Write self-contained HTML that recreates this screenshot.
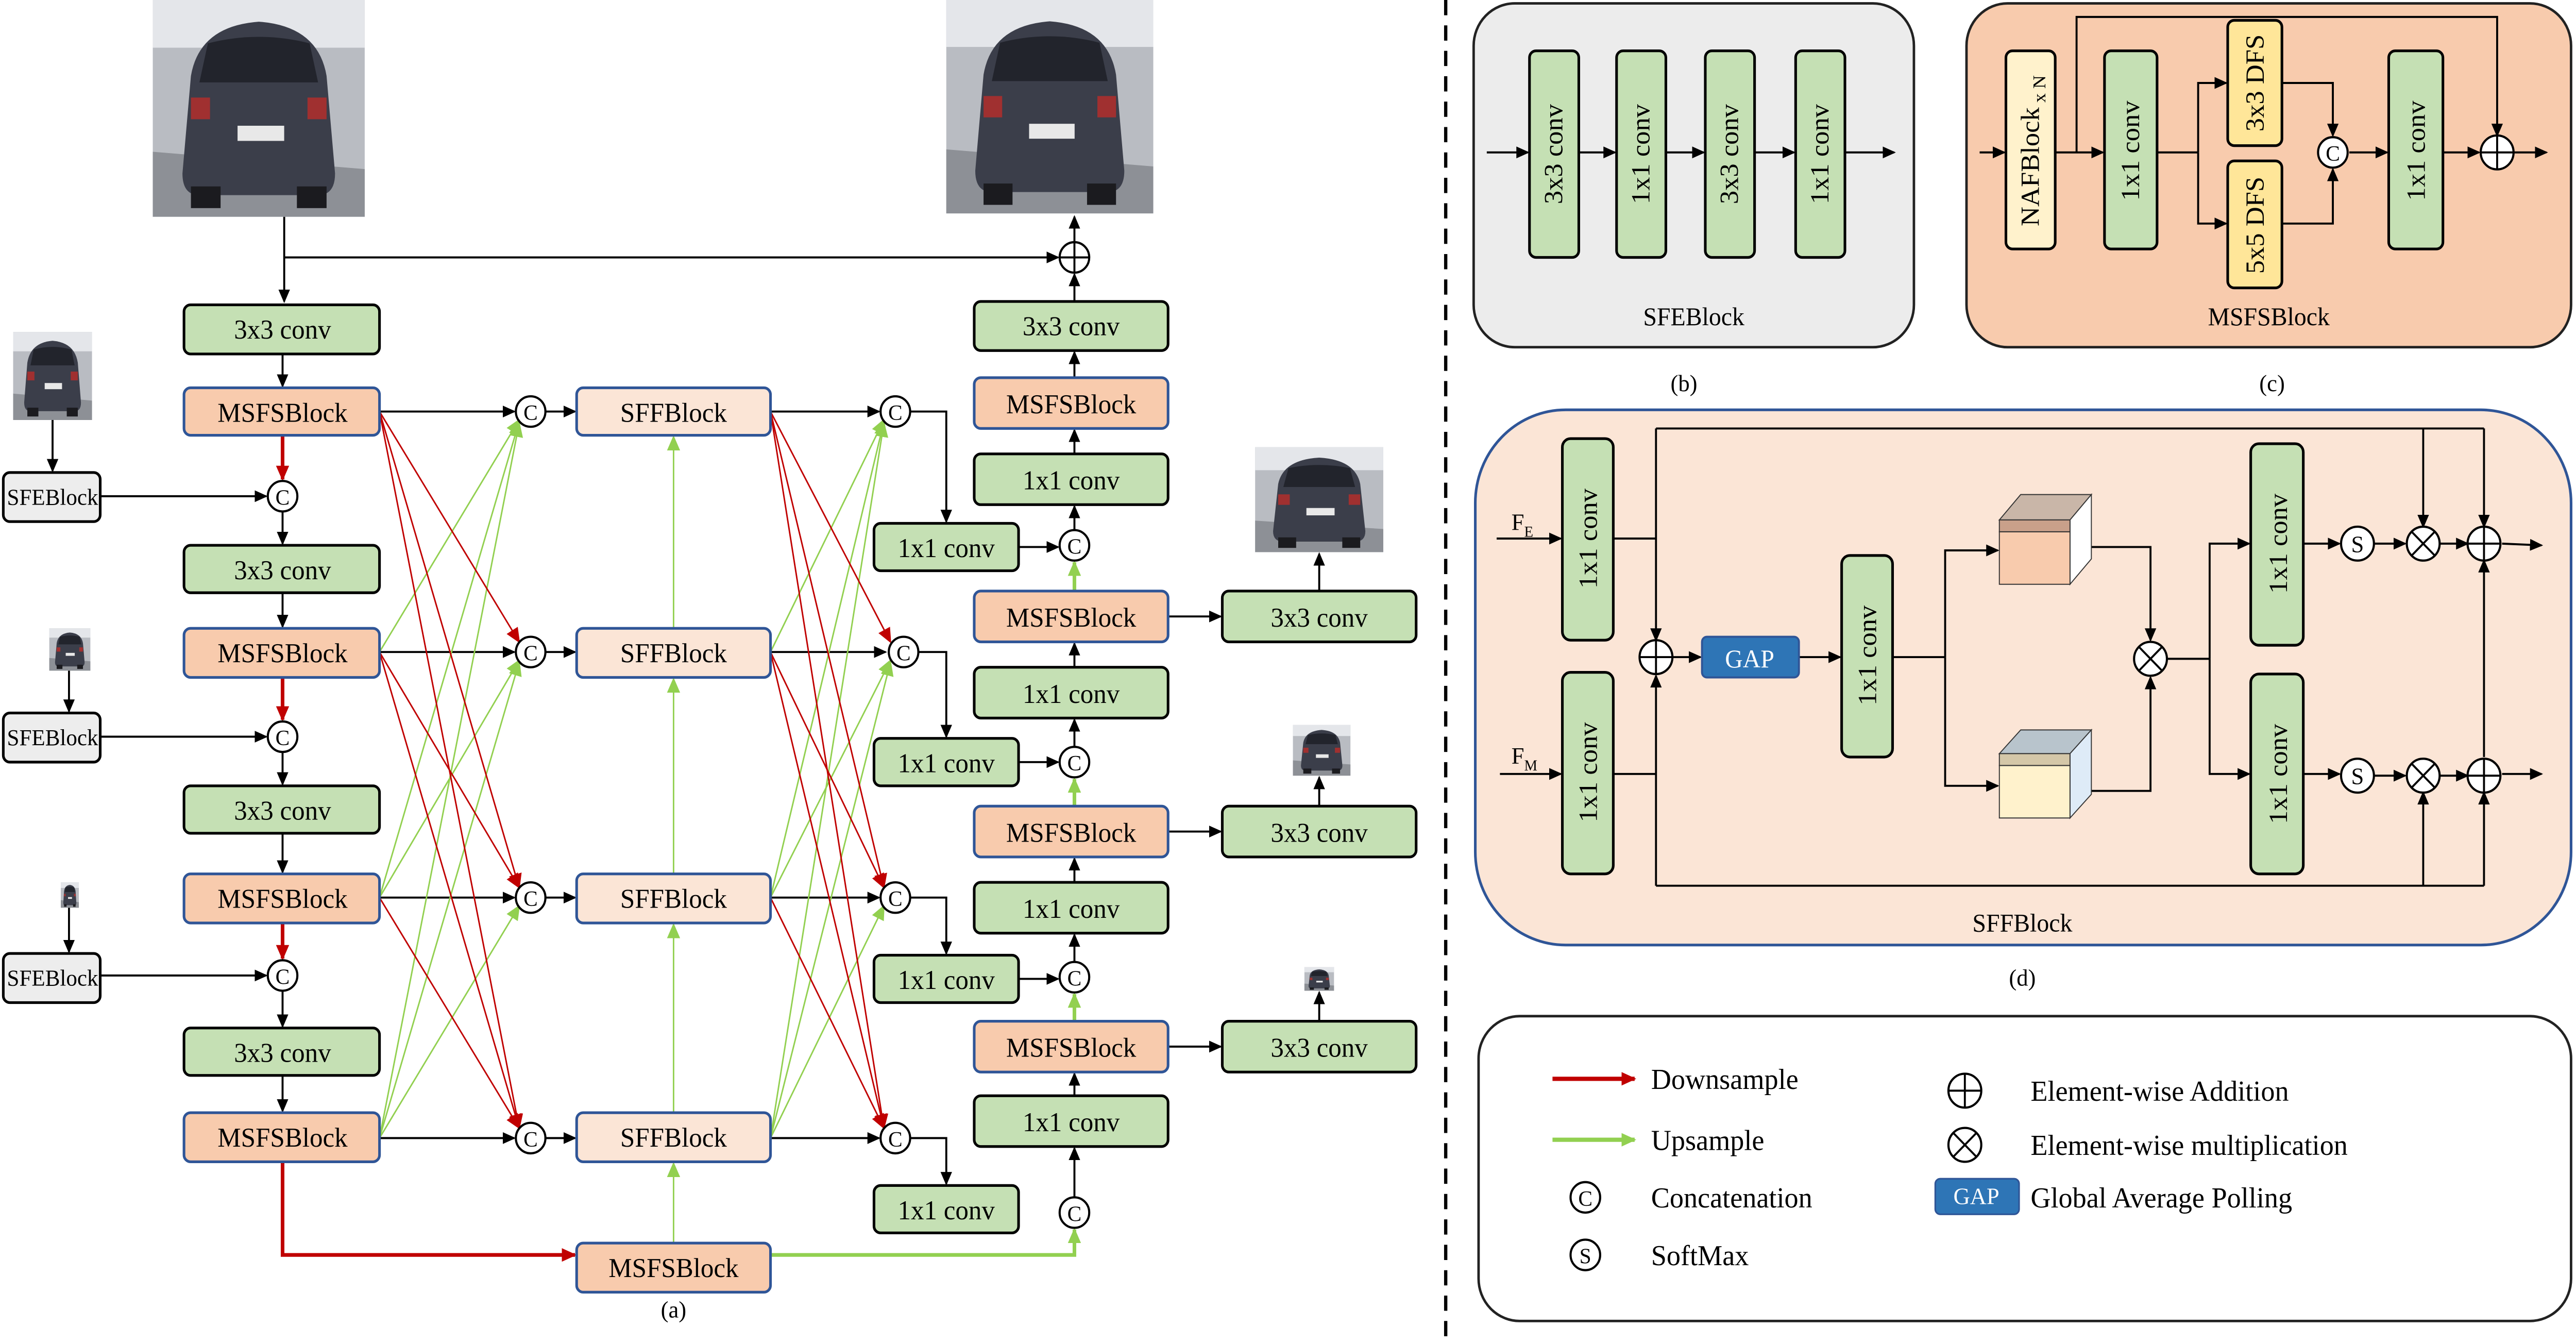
<!DOCTYPE html>
<html><head><meta charset="utf-8"><style>
html,body{margin:0;padding:0;background:#fff;overflow:hidden;width:100%;height:100%;}
svg{display:block;position:fixed;left:0;top:0;width:100vw;height:100vh;}
text{font-family:"Liberation Serif",serif;fill:#000;}
</style></head><body>
<svg viewBox="0 0 1568 793" preserveAspectRatio="none" font-family="Liberation Serif, serif" xmlns="http://www.w3.org/2000/svg">
<defs>
<marker id="ak" markerWidth="8" markerHeight="8" refX="7" refY="4" orient="auto" markerUnits="userSpaceOnUse"><path d="M0,0.5 L8,4 L0,7.5z" fill="#000"/></marker>
<marker id="ar" markerWidth="9" markerHeight="9" refX="8" refY="4.5" orient="auto" markerUnits="userSpaceOnUse"><path d="M0,0.5 L9,4.5 L0,8.5z" fill="#c00000"/></marker>
<marker id="ag" markerWidth="9" markerHeight="9" refX="8" refY="4.5" orient="auto" markerUnits="userSpaceOnUse"><path d="M0,0.5 L9,4.5 L0,8.5z" fill="#92d050"/></marker>
<g id="car">
<rect x="0" y="0" width="100" height="100" fill="#b9bcc2"/>
<rect x="0" y="0" width="100" height="22" fill="#e4e6ea"/>
<polygon points="0,70 100,78 100,100 0,100" fill="#8d9096"/>
<path d="M18,35 Q22,12 50,10 Q78,12 82,35 L86,80 Q86,90 78,90 L22,90 Q14,90 14,80z" fill="#3b3e4a"/>
<path d="M26,20 Q50,14 74,20 L78,38 L22,38z" fill="#22242c"/>
<rect x="40" y="58" width="22" height="7" fill="#e8e8e8"/>
<rect x="18" y="45" width="9" height="10" fill="#a03030"/>
<rect x="73" y="45" width="9" height="10" fill="#a03030"/>
<rect x="18" y="86" width="14" height="10" fill="#1b1b1f"/>
<rect x="68" y="86" width="14" height="10" fill="#1b1b1f"/>
</g>
</defs>
<g stroke="#000" stroke-width="1.2" fill="none">
<line x1="173" y1="128" x2="173" y2="178" marker-end="url(#ak)"/>
<line x1="173" y1="152" x2="644" y2="152" marker-end="url(#ak)"/>
<line x1="654" y1="143" x2="654" y2="128" marker-end="url(#ak)"/>
<line x1="172" y1="209" x2="172" y2="228" marker-end="url(#ak)"/>
<line x1="172" y1="302" x2="172" y2="321" marker-end="url(#ak)"/>
<line x1="172" y1="350" x2="172" y2="370" marker-end="url(#ak)"/>
<line x1="172" y1="443" x2="172" y2="463" marker-end="url(#ak)"/>
<line x1="172" y1="492" x2="172" y2="515" marker-end="url(#ak)"/>
<line x1="172" y1="585" x2="172" y2="606" marker-end="url(#ak)"/>
<line x1="172" y1="635" x2="172" y2="656" marker-end="url(#ak)"/>
<line x1="32" y1="248" x2="32" y2="278" marker-end="url(#ak)"/>
<line x1="42" y1="396" x2="42" y2="420" marker-end="url(#ak)"/>
<line x1="42" y1="536" x2="42" y2="562" marker-end="url(#ak)"/>
<line x1="61" y1="293" x2="162" y2="293" marker-end="url(#ak)"/>
<line x1="61" y1="435" x2="162" y2="435" marker-end="url(#ak)"/>
<line x1="61" y1="576" x2="162" y2="576" marker-end="url(#ak)"/>
<line x1="231" y1="243" x2="313" y2="243" marker-end="url(#ak)"/>
<line x1="231" y1="385" x2="313" y2="385" marker-end="url(#ak)"/>
<line x1="231" y1="530" x2="313" y2="530" marker-end="url(#ak)"/>
<line x1="231" y1="672" x2="313" y2="672" marker-end="url(#ak)"/>
<line x1="332" y1="243" x2="350" y2="243" marker-end="url(#ak)"/>
<line x1="332" y1="385" x2="350" y2="385" marker-end="url(#ak)"/>
<line x1="332" y1="530" x2="350" y2="530" marker-end="url(#ak)"/>
<line x1="332" y1="672" x2="350" y2="672" marker-end="url(#ak)"/>
<line x1="469" y1="243" x2="535" y2="243" marker-end="url(#ak)"/>
<line x1="469" y1="385" x2="539" y2="385" marker-end="url(#ak)"/>
<line x1="469" y1="530" x2="535" y2="530" marker-end="url(#ak)"/>
<line x1="469" y1="672" x2="535" y2="672" marker-end="url(#ak)"/>
<polyline points="553,243 576,243 576,308" marker-end="url(#ak)"/>
<polyline points="558,385 576,385 576,435" marker-end="url(#ak)"/>
<polyline points="553,530 576,530 576,563" marker-end="url(#ak)"/>
<polyline points="553,672 576,672 576,699" marker-end="url(#ak)"/>
<line x1="620" y1="323" x2="644" y2="323" marker-end="url(#ak)"/>
<line x1="620" y1="450" x2="644" y2="450" marker-end="url(#ak)"/>
<line x1="620" y1="578" x2="644" y2="578" marker-end="url(#ak)"/>
<line x1="654" y1="223" x2="654" y2="208" marker-end="url(#ak)"/>
<line x1="654" y1="268" x2="654" y2="254" marker-end="url(#ak)"/>
<line x1="654" y1="313" x2="654" y2="299" marker-end="url(#ak)"/>
<line x1="654" y1="394" x2="654" y2="380" marker-end="url(#ak)"/>
<line x1="654" y1="441" x2="654" y2="425" marker-end="url(#ak)"/>
<line x1="654" y1="521" x2="654" y2="507" marker-end="url(#ak)"/>
<line x1="654" y1="568" x2="654" y2="552" marker-end="url(#ak)"/>
<line x1="654" y1="647" x2="654" y2="634" marker-end="url(#ak)"/>
<line x1="654" y1="707" x2="654" y2="678" marker-end="url(#ak)"/>
<line x1="654" y1="178" x2="654" y2="162" marker-end="url(#ak)"/>
<line x1="711" y1="364" x2="743" y2="364" marker-end="url(#ak)"/>
<line x1="711" y1="491" x2="743" y2="491" marker-end="url(#ak)"/>
<line x1="711" y1="618" x2="743" y2="618" marker-end="url(#ak)"/>
<line x1="803" y1="349" x2="803" y2="327" marker-end="url(#ak)"/>
<line x1="803" y1="476" x2="803" y2="459" marker-end="url(#ak)"/>
<line x1="803" y1="603" x2="803" y2="586" marker-end="url(#ak)"/>
</g>
<g fill="none" stroke-width="2.2">
<line x1="172" y1="257" x2="172" y2="283" stroke="#c00000" marker-end="url(#ar)"/>
<line x1="172" y1="400" x2="172" y2="425" stroke="#c00000" marker-end="url(#ar)"/>
<line x1="172" y1="545" x2="172" y2="566" stroke="#c00000" marker-end="url(#ar)"/>
<polyline points="172,686 172,741 350,741" stroke="#c00000" marker-end="url(#ar)"/>
<polyline points="469,741 654,741 654,726" stroke="#92d050" marker-end="url(#ag)"/>
<line x1="654" y1="349" x2="654" y2="332" stroke="#92d050" marker-end="url(#ag)"/>
<line x1="654" y1="476" x2="654" y2="460" stroke="#92d050" marker-end="url(#ag)"/>
<line x1="654" y1="603" x2="654" y2="587" stroke="#92d050" marker-end="url(#ag)"/>
</g>
<g fill="none" stroke="#92d050" stroke-width="0.9">
<line x1="410" y1="371" x2="410" y2="258" marker-end="url(#ag)"/>
<line x1="410" y1="516" x2="410" y2="401" marker-end="url(#ag)"/>
<line x1="410" y1="657" x2="410" y2="546" marker-end="url(#ag)"/>
<line x1="410" y1="734" x2="410" y2="687" marker-end="url(#ag)"/>
<line x1="231" y1="385" x2="316" y2="248" marker-end="url(#ag)"/>
<line x1="231" y1="530" x2="316" y2="249" marker-end="url(#ag)"/>
<line x1="231" y1="672" x2="316" y2="250" marker-end="url(#ag)"/>
<line x1="231" y1="530" x2="316" y2="390" marker-end="url(#ag)"/>
<line x1="231" y1="672" x2="316" y2="391" marker-end="url(#ag)"/>
<line x1="231" y1="672" x2="316" y2="535" marker-end="url(#ag)"/>
<line x1="469" y1="385" x2="538" y2="248" marker-end="url(#ag)"/>
<line x1="469" y1="530" x2="538" y2="249" marker-end="url(#ag)"/>
<line x1="469" y1="672" x2="538" y2="250" marker-end="url(#ag)"/>
<line x1="469" y1="530" x2="542" y2="390" marker-end="url(#ag)"/>
<line x1="469" y1="672" x2="542" y2="391" marker-end="url(#ag)"/>
<line x1="469" y1="672" x2="538" y2="535" marker-end="url(#ag)"/>
</g>
<g fill="none" stroke="#c00000" stroke-width="0.9">
<line x1="231" y1="243" x2="316" y2="379" marker-end="url(#ar)"/>
<line x1="231" y1="243" x2="316" y2="524" marker-end="url(#ar)"/>
<line x1="231" y1="243" x2="316" y2="666" marker-end="url(#ar)"/>
<line x1="231" y1="385" x2="316" y2="524" marker-end="url(#ar)"/>
<line x1="231" y1="385" x2="316" y2="666" marker-end="url(#ar)"/>
<line x1="231" y1="530" x2="316" y2="666" marker-end="url(#ar)"/>
<line x1="469" y1="243" x2="542" y2="379" marker-end="url(#ar)"/>
<line x1="469" y1="243" x2="538" y2="524" marker-end="url(#ar)"/>
<line x1="469" y1="243" x2="538" y2="666" marker-end="url(#ar)"/>
<line x1="469" y1="385" x2="538" y2="524" marker-end="url(#ar)"/>
<line x1="469" y1="385" x2="538" y2="666" marker-end="url(#ar)"/>
<line x1="469" y1="530" x2="538" y2="666" marker-end="url(#ar)"/>
</g>
<use href="#car" transform="translate(93,0) scale(1.29,1.28)"/>
<use href="#car" transform="translate(576,0) scale(1.26,1.26)"/>
<use href="#car" transform="translate(8,196) scale(0.48,0.52)"/>
<use href="#car" transform="translate(30,371) scale(0.25,0.25)"/>
<use href="#car" transform="translate(37,521) scale(0.11,0.15)"/>
<use href="#car" transform="translate(764,264) scale(0.78,0.62)"/>
<use href="#car" transform="translate(787,428) scale(0.35,0.30)"/>
<use href="#car" transform="translate(794,571) scale(0.18,0.14)"/>
<g stroke-width="1.6">
<g stroke="#000" fill="#c5e0b4">
<rect x="112" y="180" width="119" height="29" rx="4"/>
<rect x="112" y="322" width="119" height="28" rx="4"/>
<rect x="112" y="464" width="119" height="28" rx="4"/>
<rect x="112" y="607" width="119" height="28" rx="4"/>
<rect x="593" y="178" width="118" height="29" rx="4"/>
<rect x="593" y="268" width="118" height="30" rx="4"/>
<rect x="593" y="394" width="118" height="30" rx="4"/>
<rect x="593" y="521" width="118" height="30" rx="4"/>
<rect x="593" y="647" width="118" height="30" rx="4"/>
<rect x="532" y="309" width="88" height="28" rx="4"/>
<rect x="532" y="436" width="88" height="28" rx="4"/>
<rect x="532" y="564" width="88" height="28" rx="4"/>
<rect x="532" y="700" width="88" height="28" rx="4"/>
<rect x="744" y="349" width="118" height="30" rx="4"/>
<rect x="744" y="476" width="118" height="30" rx="4"/>
<rect x="744" y="603" width="118" height="30" rx="4"/>
</g>
<g stroke="#000" fill="#ededed">
<rect x="2" y="279" width="59" height="29" rx="4"/>
<rect x="2" y="421" width="59" height="29" rx="4"/>
<rect x="2" y="563" width="59" height="29" rx="4"/>
</g>
<g stroke="#2f5597" fill="#f8cbad">
<rect x="112" y="229" width="119" height="28" rx="4"/>
<rect x="112" y="371" width="119" height="29" rx="4"/>
<rect x="112" y="516" width="119" height="29" rx="4"/>
<rect x="112" y="657" width="119" height="29" rx="4"/>
<rect x="593" y="223" width="118" height="30" rx="4"/>
<rect x="593" y="349" width="118" height="30" rx="4"/>
<rect x="593" y="476" width="118" height="30" rx="4"/>
<rect x="593" y="603" width="118" height="30" rx="4"/>
<rect x="351" y="734" width="118" height="29" rx="4"/>
</g>
<g stroke="#2f5597" fill="#fbe5d6">
<rect x="351" y="229" width="118" height="28" rx="4"/>
<rect x="351" y="371" width="118" height="29" rx="4"/>
<rect x="351" y="516" width="118" height="29" rx="4"/>
<rect x="351" y="657" width="118" height="29" rx="4"/>
</g>
</g>
<g font-size="16" text-anchor="middle">
<text x="172" y="200">3x3 conv</text><text x="172" y="342">3x3 conv</text><text x="172" y="484">3x3 conv</text><text x="172" y="627">3x3 conv</text>
<text x="172" y="249">MSFSBlock</text><text x="172" y="391">MSFSBlock</text><text x="172" y="536">MSFSBlock</text><text x="172" y="677">MSFSBlock</text>
<text x="32" y="298" font-size="13.5">SFEBlock</text><text x="32" y="440" font-size="13.5">SFEBlock</text><text x="32" y="582" font-size="13.5">SFEBlock</text>
<text x="410" y="249">SFFBlock</text><text x="410" y="391">SFFBlock</text><text x="410" y="536">SFFBlock</text><text x="410" y="677">SFFBlock</text>
<text x="410" y="754">MSFSBlock</text>
<text x="652" y="198">3x3 conv</text><text x="652" y="244">MSFSBlock</text><text x="652" y="289">1x1 conv</text>
<text x="652" y="370">MSFSBlock</text><text x="652" y="415">1x1 conv</text>
<text x="652" y="497">MSFSBlock</text><text x="652" y="542">1x1 conv</text>
<text x="652" y="624">MSFSBlock</text><text x="652" y="668">1x1 conv</text>
<text x="576" y="329">1x1 conv</text><text x="576" y="456">1x1 conv</text><text x="576" y="584">1x1 conv</text><text x="576" y="720">1x1 conv</text>
<text x="803" y="370">3x3 conv</text><text x="803" y="497">3x3 conv</text><text x="803" y="624">3x3 conv</text>
<text x="410" y="778" font-size="14">(a)</text>
</g>
<g stroke="#000" stroke-width="1.3" fill="#fff">
<circle cx="172" cy="293" r="9"/><circle cx="172" cy="435" r="9"/><circle cx="172" cy="576" r="9"/>
<circle cx="323" cy="243" r="9"/><circle cx="323" cy="385" r="9"/><circle cx="323" cy="530" r="9"/><circle cx="323" cy="672" r="9"/>
<circle cx="545" cy="243" r="9"/><circle cx="550" cy="385" r="9"/><circle cx="545" cy="530" r="9"/><circle cx="545" cy="672" r="9"/>
<circle cx="654" cy="322" r="9"/><circle cx="654" cy="450" r="9"/><circle cx="654" cy="577" r="9"/><circle cx="654" cy="716" r="9"/>
<circle cx="654" cy="152" r="9"/>
</g>
<path d="M645,152 H663 M654,143 V161" stroke="#000" stroke-width="1.2"/>
<g font-size="13" text-anchor="middle">
<text x="172" y="298">C</text><text x="172" y="440">C</text><text x="172" y="581">C</text>
<text x="323" y="248">C</text><text x="323" y="390">C</text><text x="323" y="535">C</text><text x="323" y="677">C</text>
<text x="545" y="248">C</text><text x="550" y="390">C</text><text x="545" y="535">C</text><text x="545" y="677">C</text>
<text x="654" y="327">C</text><text x="654" y="455">C</text><text x="654" y="582">C</text><text x="654" y="721">C</text>
</g>
<line x1="880" y1="0" x2="880" y2="793" stroke="#000" stroke-width="2" stroke-dasharray="9,6"/>

<rect x="897" y="2" width="268" height="203" rx="25" fill="#ececec" stroke="#222" stroke-width="1.5"/>
<g stroke="#000" stroke-width="1.2" fill="none">
<line x1="905" y1="90" x2="930" y2="90" marker-end="url(#ak)"/>
<line x1="961" y1="90" x2="983" y2="90" marker-end="url(#ak)"/>
<line x1="1014" y1="90" x2="1037" y2="90" marker-end="url(#ak)"/>
<line x1="1068" y1="90" x2="1092" y2="90" marker-end="url(#ak)"/>
<line x1="1123" y1="90" x2="1153" y2="90" marker-end="url(#ak)"/>
</g>
<g stroke="#000" stroke-width="1.6" fill="#c5e0b4">
<rect x="931" y="30" width="30" height="122" rx="4"/><rect x="984" y="30" width="30" height="122" rx="4"/>
<rect x="1038" y="30" width="30" height="122" rx="4"/><rect x="1093" y="30" width="30" height="122" rx="4"/>
</g>
<g font-size="16" text-anchor="middle">
<text transform="translate(951,91) rotate(-90)">3x3 conv</text>
<text transform="translate(1004,91) rotate(-90)">1x1 conv</text>
<text transform="translate(1058,91) rotate(-90)">3x3 conv</text>
<text transform="translate(1113,91) rotate(-90)">1x1 conv</text>
<text x="1031" y="192" font-size="15">SFEBlock</text>
<text x="1025" y="231" font-size="14">(b)</text>
</g>

<rect x="1197" y="2" width="368" height="203" rx="25" fill="#f8cbad" stroke="#222" stroke-width="1.5"/>
<g stroke="#000" stroke-width="1.2" fill="none">
<line x1="1205" y1="90" x2="1220" y2="90" marker-end="url(#ak)"/>
<line x1="1251" y1="90" x2="1280" y2="90" marker-end="url(#ak)"/>
<polyline points="1264,90 1264,10 1520,10 1520,80" marker-end="url(#ak)"/>
<line x1="1313" y1="90" x2="1338" y2="90"/>
<polyline points="1338,90 1338,49 1355,49" marker-end="url(#ak)"/>
<polyline points="1338,90 1338,132 1355,132" marker-end="url(#ak)"/>
<polyline points="1389,49 1420,49 1420,80" marker-end="url(#ak)"/>
<polyline points="1389,132 1420,132 1420,100" marker-end="url(#ak)"/>
<line x1="1430" y1="90" x2="1453" y2="90" marker-end="url(#ak)"/>
<line x1="1487" y1="90" x2="1509" y2="90" marker-end="url(#ak)"/>
<line x1="1530" y1="90" x2="1550" y2="90" marker-end="url(#ak)"/>
</g>
<g stroke="#000" stroke-width="1.6">
<rect x="1221" y="30" width="30" height="117" rx="4" fill="#fff2cc"/>
<rect x="1281" y="30" width="32" height="117" rx="4" fill="#c5e0b4"/>
<rect x="1356" y="12" width="33" height="74" rx="4" fill="#ffe699"/>
<rect x="1356" y="95" width="33" height="75" rx="4" fill="#ffe699"/>
<rect x="1454" y="30" width="33" height="117" rx="4" fill="#c5e0b4"/>
</g>
<circle cx="1420" cy="90" r="9" fill="#fff" stroke="#000" stroke-width="1.3"/>
<circle cx="1520" cy="90" r="10" fill="#fff" stroke="#000" stroke-width="1.3"/>
<path d="M1510,90 H1530 M1520,80 V100" stroke="#000" stroke-width="1.2"/>
<g font-size="16" text-anchor="middle">
<text x="1420" y="95" font-size="13">C</text>
<text transform="translate(1241,89) rotate(-90)">NAFBlock<tspan font-size="11" dy="4"> x N</tspan></text>
<text transform="translate(1302,89) rotate(-90)">1x1 conv</text>
<text transform="translate(1378,49) rotate(-90)">3x3 DFS</text>
<text transform="translate(1378,133) rotate(-90)">5x5 DFS</text>
<text transform="translate(1476,89) rotate(-90)">1x1 conv</text>
<text x="1381" y="192" font-size="15">MSFSBlock</text>
<text x="1383" y="231" font-size="14">(c)</text>
</g>

<rect x="898" y="242" width="667" height="316" rx="55" fill="#fbe5d6" stroke="#2f5597" stroke-width="1.6"/>
<g stroke="#000" stroke-width="1.2" fill="none">
<line x1="911" y1="318" x2="950" y2="318" marker-end="url(#ak)"/>
<line x1="913" y1="457" x2="950" y2="457" marker-end="url(#ak)"/>
<polyline points="982,318 1008,318"/>
<polyline points="982,457 1008,457"/>
<polyline points="1008,253 1008,378" marker-end="url(#ak)"/>
<polyline points="1008,523 1008,399" marker-end="url(#ak)"/>
<polyline points="1008,253 1512,253"/>
<polyline points="1008,523 1512,523"/>
<line x1="1018" y1="388" x2="1035" y2="388" marker-end="url(#ak)"/>
<line x1="1095" y1="388" x2="1120" y2="388" marker-end="url(#ak)"/>
<line x1="1152" y1="388" x2="1184" y2="388"/>
<polyline points="1184,388 1184,325 1216,325" marker-end="url(#ak)"/>
<polyline points="1184,388 1184,464 1216,464" marker-end="url(#ak)"/>
<polyline points="1273,323 1309,323 1309,378" marker-end="url(#ak)"/>
<polyline points="1273,467 1309,467 1309,400" marker-end="url(#ak)"/>
<line x1="1319" y1="389" x2="1345" y2="389"/>
<polyline points="1345,389 1345,321 1369,321" marker-end="url(#ak)"/>
<polyline points="1345,389 1345,457 1369,457" marker-end="url(#ak)"/>
<line x1="1402" y1="321" x2="1424" y2="321" marker-end="url(#ak)"/>
<line x1="1445" y1="321" x2="1464" y2="321" marker-end="url(#ak)"/>
<line x1="1485" y1="321" x2="1502" y2="321" marker-end="url(#ak)"/>
<line x1="1523" y1="321" x2="1547" y2="322" marker-end="url(#ak)"/>
<line x1="1402" y1="457" x2="1424" y2="457" marker-end="url(#ak)"/>
<line x1="1445" y1="458" x2="1464" y2="458" marker-end="url(#ak)"/>
<line x1="1485" y1="458" x2="1502" y2="458" marker-end="url(#ak)"/>
<line x1="1523" y1="457" x2="1547" y2="457" marker-end="url(#ak)"/>
<line x1="1475" y1="253" x2="1475" y2="311" marker-end="url(#ak)"/>
<line x1="1512" y1="253" x2="1512" y2="311" marker-end="url(#ak)"/>
<line x1="1475" y1="523" x2="1475" y2="468" marker-end="url(#ak)"/>
<line x1="1512" y1="523" x2="1512" y2="468" marker-end="url(#ak)"/>
<line x1="1512" y1="447" x2="1512" y2="331" marker-end="url(#ak)"/>
</g>
<g stroke="#000" stroke-width="1.6" fill="#c5e0b4">
<rect x="951" y="259" width="31" height="119" rx="5"/>
<rect x="951" y="397" width="31" height="119" rx="5"/>
<rect x="1121" y="328" width="31" height="119" rx="5"/>
<rect x="1370" y="262" width="32" height="119" rx="5"/>
<rect x="1370" y="398" width="32" height="118" rx="5"/>
</g>
<rect x="1036" y="376" width="59" height="24" rx="3" fill="#2e75b6" stroke="#2f5597" stroke-width="1.2"/>
<g stroke="#333" stroke-width="0.6">
<polygon points="1217,307 1230,292 1273,292 1260,307" fill="#c9b6a8"/>
<polygon points="1260,307 1273,292 1273,330 1260,345" fill="#fff"/>
<rect x="1217" y="314" width="43" height="31" fill="#f8cbad"/>
<polygon points="1217,314 1217,307 1260,307 1260,314" fill="#c9a08a"/>
<polygon points="1217,445 1230,431 1273,431 1260,445" fill="#b8c4cc"/>
<polygon points="1260,445 1273,431 1273,469 1260,483" fill="#deebf7"/>
<rect x="1217" y="452" width="43" height="31" fill="#fff2cc"/>
<polygon points="1217,452 1217,445 1260,445 1260,452" fill="#d4c7a8"/>
</g>
<g stroke="#000" stroke-width="1.3" fill="#fff">
<circle cx="1008" cy="388" r="10"/><circle cx="1309" cy="389" r="10"/>
<circle cx="1435" cy="321" r="10"/><circle cx="1475" cy="321" r="10"/><circle cx="1512" cy="321" r="10"/>
<circle cx="1435" cy="458" r="10"/><circle cx="1475" cy="458" r="10"/><circle cx="1512" cy="458" r="10"/>
</g>
<g stroke="#000" stroke-width="1.2">
<path d="M998,388 H1018 M1008,378 V398"/>
<path d="M1502,321 H1522 M1512,311 V331"/>
<path d="M1502,458 H1522 M1512,448 V468"/>
<path d="M1302,382 L1316,396 M1316,382 L1302,396"/>
<path d="M1468,314 L1482,328 M1482,314 L1468,328"/>
<path d="M1468,451 L1482,465 M1482,451 L1468,465"/>
</g>
<g font-size="16" text-anchor="middle">
<text x="1435" y="326" font-size="14">S</text><text x="1435" y="463" font-size="14">S</text>
<text x="1065" y="394" style="fill:#fff" font-size="15">GAP</text>
<text transform="translate(972,318) rotate(-90)">1x1 conv</text>
<text transform="translate(972,456) rotate(-90)">1x1 conv</text>
<text transform="translate(1142,387) rotate(-90)">1x1 conv</text>
<text transform="translate(1392,321) rotate(-90)">1x1 conv</text>
<text transform="translate(1392,457) rotate(-90)">1x1 conv</text>
<text x="1231" y="550" font-size="15">SFFBlock</text>
<text x="1231" y="582" font-size="14">(d)</text>
</g>
<text x="920" y="313" font-size="14">F<tspan font-size="9" dy="4">E</tspan></text>
<text x="920" y="451" font-size="14">F<tspan font-size="9" dy="4">M</tspan></text>

<rect x="900" y="600" width="665" height="180" rx="25" fill="#fff" stroke="#222" stroke-width="1.5"/>
<line x1="945" y1="637" x2="995" y2="637" stroke="#c00000" stroke-width="2.5" marker-end="url(#ar)"/>
<line x1="945" y1="673" x2="995" y2="673" stroke="#92d050" stroke-width="2.5" marker-end="url(#ag)"/>
<g stroke="#000" stroke-width="1.3" fill="#fff">
<circle cx="965" cy="707" r="9"/><circle cx="965" cy="741" r="9"/>
<circle cx="1196" cy="644" r="10"/><circle cx="1196" cy="676" r="10"/>
</g>
<path d="M1186,644 H1206 M1196,634 V654 M1189,669 L1203,683 M1203,669 L1189,683" stroke="#000" stroke-width="1.2"/>
<rect x="1178" y="696" width="51" height="21" rx="3" fill="#2e75b6" stroke="#2f5597"/>
<g font-size="17">
<text x="965" y="712" font-size="13" text-anchor="middle">C</text>
<text x="965" y="746" font-size="13" text-anchor="middle">S</text>
<text x="1203" y="711" font-size="14" text-anchor="middle" style="fill:#fff">GAP</text>
<text x="1005" y="643">Downsample</text>
<text x="1005" y="679">Upsample</text>
<text x="1005" y="713">Concatenation</text>
<text x="1005" y="747">SoftMax</text>
<text x="1236" y="650">Element-wise Addition</text>
<text x="1236" y="682">Element-wise multiplication</text>
<text x="1236" y="713">Global Average Polling</text>
</g>
</svg>
</body></html>
